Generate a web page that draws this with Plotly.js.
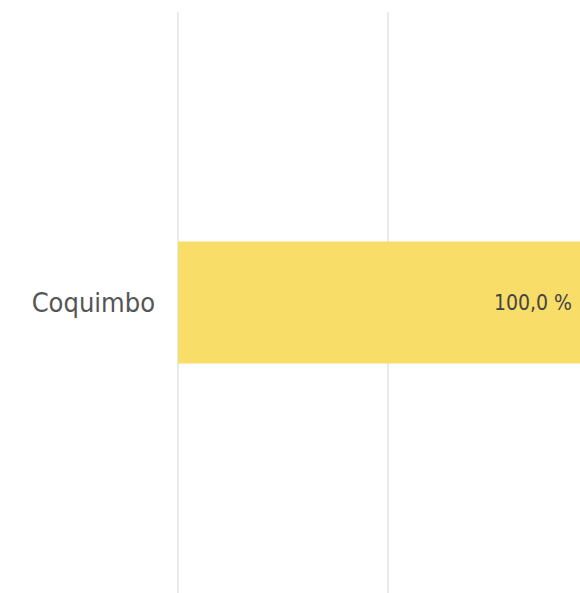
<!DOCTYPE html>
<html>
<head>
<meta charset="utf-8">
<script src="https://cdn.plot.ly/plotly-3.0.1.min.js"></script>
<style>html,body{margin:0;padding:0;background:#fff;}#chart{width:580px;height:593px;}</style>
</head>
<body>
<div id="chart"></div>
<script>
const categories = ["Coquimbo"];
const values = [1.0];
const valueLabels = ["100,0 %"];

const FONT = "DejaVu Sans Condensed, Liberation Sans, sans-serif";
const xRange = [0, 0.957];

const trace = {
  type: "bar",
  orientation: "h",
  y: categories,
  x: values,
  marker: {color: "#F8DD68"},
  width: 0.21,
  hoverinfo: "none",
  cliponaxis: true
};

const annotations = categories.map((c, i) => ({
  x: Math.min(values[i], xRange[1]),
  y: c,
  xref: "x",
  yref: "y",
  text: valueLabels[i],
  showarrow: false,
  xanchor: "right",
  yanchor: "middle",
  xshift: -6,
  font: {family: FONT, size: 21, color: "#444"}
}));

const layout = {
  width: 580,
  height: 593,
  margin: {l: 178, r: 0, t: 12, b: 0, pad: 0},
  paper_bgcolor: "#fff",
  plot_bgcolor: "#fff",
  showlegend: false,
  annotations: annotations,
  xaxis: {
    range: xRange,
    dtick: 0.5,
    tick0: 0,
    showgrid: true,
    gridcolor: "#EAEAEA",
    gridwidth: 2,
    zeroline: true,
    zerolinecolor: "#EAEAEA",
    zerolinewidth: 2,
    showticklabels: false,
    fixedrange: true
  },
  yaxis: {
    range: [-0.5, 0.5],
    showgrid: false,
    zeroline: false,
    ticks: "",
    ticklabelstandoff: 22,
    tickfont: {family: FONT, size: 27, color: "#555"},
    fixedrange: true
  }
};

Plotly.newPlot("chart", [trace], layout, {staticPlot: true, displayModeBar: false});
</script>
</body>
</html>
